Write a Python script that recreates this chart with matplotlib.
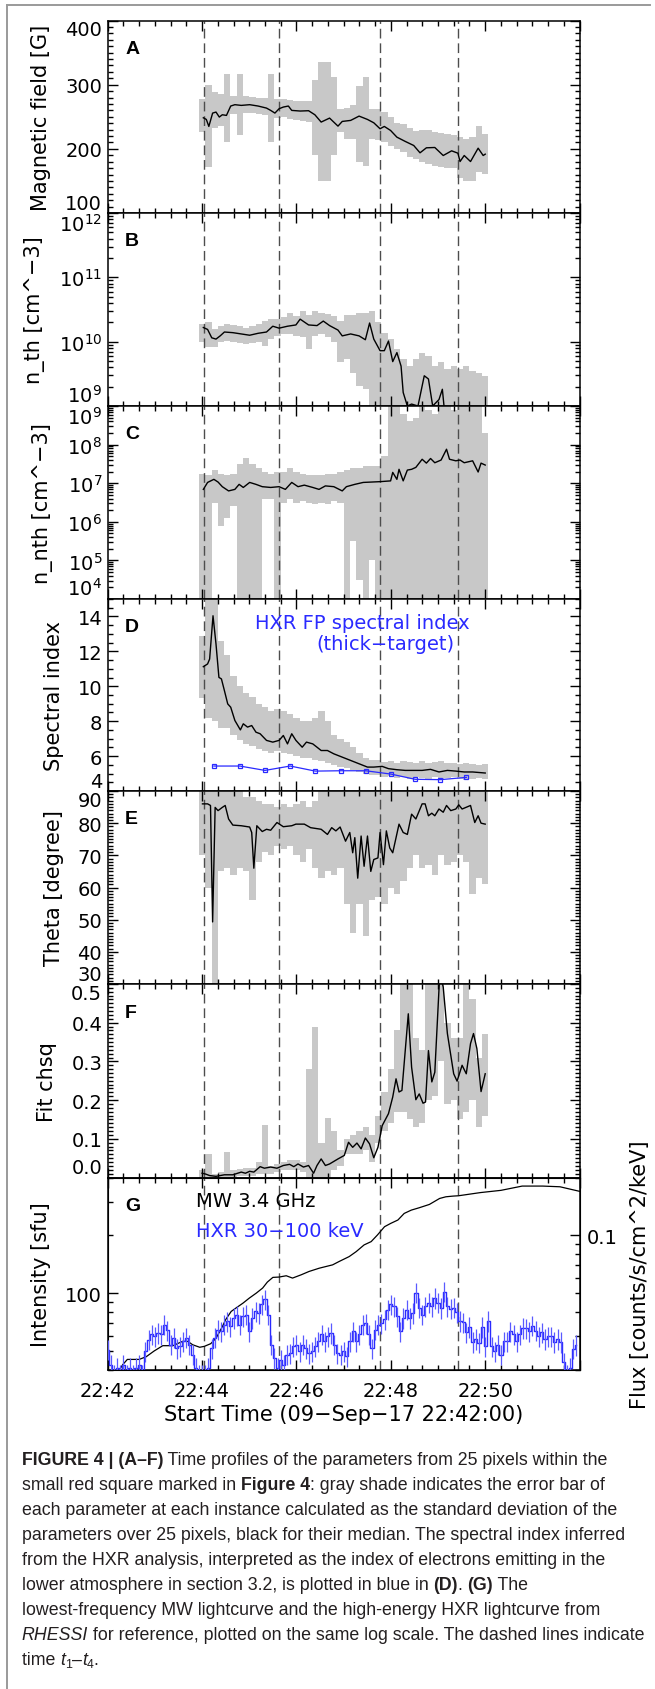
import numpy as np
import matplotlib
matplotlib.use('Agg')
import matplotlib.pyplot as plt
from matplotlib.lines import Line2D
from matplotlib.ticker import (MultipleLocator, FixedLocator, LogLocator,
                               NullFormatter, FuncFormatter, FormatStrFormatter)

plt.rcParams['font.family'] = ['DejaVu Sans']

# ---------------- data (time in s after 22:42:00) ----------------
t_marks = [122, 218, 346, 446]
tick_t = [0, 120, 240, 360, 480, 600]
tick_lab = ['22:42', '22:44', '22:46', '22:48', '22:50', '']

# gray error shading is sampled on one 8 s grid
t_grid = np.arange(120, 481, 8)

# (A) magnetic field [G]
bfield_t = [121.6, 125.4, 128.6, 133.4, 137.7, 141.9, 145.7, 151.0, 156.4, 161.7, 169.8, 180.5,
            191.2, 201.9, 207.2, 212.6, 217.9, 223.3, 229.7, 234.0, 244.7, 255.4, 263.4, 271.4,
            282.1, 292.8, 298.2, 308.9, 319.6, 330.3, 338.3, 346.3, 351.7, 359.7, 367.7, 378.4,
            389.1, 397.1, 405.2, 415.9, 426.6, 437.3, 445.3, 448.0, 453.3, 461.3, 471.0, 477.4, 480.0]
bfield_med = [248.4, 245.8, 234.9, 255.7, 257.3, 249.5, 253.1, 252.1, 266.7, 268.8, 267.7, 268.8,
              266.7, 263.5, 259.9, 255.7, 262.5, 265.1, 266.7, 259.9, 258.9, 259.4, 253.1, 241.7,
              247.9, 235.4, 242.7, 244.3, 251.0, 245.8, 240.6, 231.3, 234.9, 228.6, 218.2, 211.5,
              205.2, 193.8, 201.6, 202.1, 189.6, 196.9, 193.2, 180.2, 189.6, 180.2, 201.0, 189.6, 191.7]
bfield_lo = [226, 171, 232, 235, 210, 255, 221, 256, 256, 254, 252, 210, 248, 250, 246, 245,
             244, 242, 190, 150, 150, 190, 226, 216, 216, 179, 174, 216, 214, 210, 205, 200,
             195, 188, 184, 179, 176, 174, 172, 170, 170, 155, 150, 150, 164, 161]
bfield_hi = [278, 299, 288, 286, 317, 283, 317, 282, 281, 280, 279, 317, 277, 278, 276, 275,
             274, 275, 307, 335, 335, 312, 262, 263, 268, 298, 312, 262, 262, 257, 250, 240,
             238, 232, 228, 230, 229, 226, 225, 223, 222, 218, 216, 218, 236, 223]

# (B) thermal density, log10 [cm^-3]
nth_t = [121.6, 127.0, 132.3, 137.7, 143.0, 148.4, 159.1, 169.8, 180.5, 191.2, 201.9, 209.9,
         217.9, 228.6, 239.3, 244.7, 255.4, 266.1, 274.1, 282.1, 292.8, 298.2, 308.9, 319.6,
         327.6, 333.0, 338.3, 346.3, 351.7, 357.0, 362.4, 367.7, 373.0, 375.7, 381.0, 386.4,
         394.5, 402.5, 407.8, 413.2, 421.2, 425.5, 429.2, 480.0]
nth_med = [10.22, 10.19, 10.06, 10.04, 10.09, 10.15, 10.14, 10.12, 10.10, 10.13, 10.15, 10.24,
           10.21, 10.24, 10.26, 10.35, 10.26, 10.25, 10.32, 10.25, 10.18, 10.09, 10.12, 10.09,
           10.03, 10.29, 10.04, 9.86, 9.86, 10.01, 9.69, 9.83, 9.62, 9.21, 9.00, 9.03,
           9.00, 9.47, 9.42, 9.00, 9.10, 9.26, 8.80, 8.70]
nth_lo = [9.99, 9.91, 9.91, 9.99, 10.01, 10.0, 9.98, 9.96, 9.98, 9.99, 9.94, 10.04, 10.09, 10.12,
          10.12, 10.09, 10.07, 9.88, 10.09, 10.12, 10.07, 9.99, 9.68, 9.73, 9.52, 9.31, 9.26, 9.0,
          8.7, 8.7, 8.7, 8.7, 8.7, 8.7, 8.7, 8.7, 8.7, 8.7, 8.7, 8.7, 8.7, 8.7, 8.7, 8.7, 8.7, 8.7]
nth_hi = [10.27, 10.3, 10.19, 10.25, 10.27, 10.26, 10.25, 10.22, 10.24, 10.27, 10.32, 10.35,
          10.35, 10.38, 10.45, 10.4, 10.48, 10.42, 10.48, 10.45, 10.43, 10.4, 10.32, 10.42,
          10.42, 10.44, 10.45, 10.48, 10.3, 10.14, 10.04, 9.88, 9.73, 9.62, 9.73, 9.83,
          9.78, 9.62, 9.68, 9.57, 9.62, 9.57, 9.62, 9.55, 9.52, 9.47]

# (C) nonthermal density, log10 [cm^-3]
nnth_t = [121.6, 127.0, 135.0, 140.3, 145.7, 153.7, 161.7, 167.1, 172.4, 180.5, 188.5, 196.5,
          207.2, 217.9, 225.9, 234.0, 242.0, 250.0, 260.7, 268.7, 276.8, 287.5, 298.2, 303.5,
          314.2, 324.9, 335.6, 346.3, 359.7, 362.4, 367.7, 370.4, 375.7, 381.0, 386.4, 391.8,
          399.8, 405.2, 410.5, 415.9, 423.9, 430.8, 434.6, 442.6, 448.0, 453.3, 464.0, 471.0,
          474.7, 480.0]
nnth_med = [6.84, 7.02, 7.10, 7.03, 6.91, 6.80, 6.84, 6.97, 6.89, 7.02, 6.97, 6.91,
            6.89, 6.91, 6.84, 7.02, 6.91, 6.95, 6.89, 6.84, 6.93, 6.91, 6.80, 6.91,
            6.97, 7.02, 7.03, 7.04, 7.06, 7.28, 7.10, 7.36, 7.06, 7.34, 7.36, 7.41,
            7.62, 7.52, 7.64, 7.53, 7.60, 7.88, 7.62, 7.58, 7.60, 7.53, 7.58, 7.29,
            7.52, 7.47]
nnth_lo = [3.5, 3.5, 6.5, 5.9, 6.1, 6.4, 3.5, 3.5, 3.5, 3.5, 6.6, 6.6, 3.5, 6.5, 6.6, 6.5,
           6.55, 6.5, 6.45, 6.5, 6.45, 6.55, 6.5, 3.5, 5.5, 4.5, 3.5, 5.0, 3.5, 3.5, 3.5, 3.5,
           3.5, 3.5, 3.5, 3.5, 3.5, 3.5, 3.5, 3.5, 3.5, 3.5, 3.5, 3.5, 3.5, 3.5]
nnth_hi = [7.25, 7.2, 7.35, 7.25, 7.2, 7.25, 7.5, 7.65, 7.5, 7.4, 7.3, 7.25, 7.3, 7.3, 7.4, 7.3,
           7.25, 7.2, 7.2, 7.2, 7.25, 7.25, 7.3, 7.35, 7.4, 7.4, 7.45, 7.45, 7.45, 7.7, 9.2, 9.2,
           8.8, 8.6, 8.7, 9.2, 8.9, 8.8, 9.2, 9.2, 8.9, 9.2, 9.2, 9.2, 9.2, 8.3]

# (D) spectral index
delta_t = [121.6, 127.0, 129.6, 133.9, 137.7, 141.4, 144.6, 148.4, 152.6, 156.4, 161.7, 168.7,
           172.4, 177.8, 183.1, 188.5, 193.8, 201.9, 209.9, 217.9, 223.3, 228.6, 234.0, 239.3,
           247.3, 252.7, 260.7, 266.1, 271.4, 279.4, 287.5, 298.2, 308.9, 319.6, 330.3, 338.3,
           349.0, 357.0, 367.7, 378.4, 389.1, 399.8, 410.5, 421.2, 431.9, 442.6, 453.3, 464.0, 480.0]
delta_med = [11.12, 11.28, 11.56, 14.04, 12.42, 10.51, 10.42, 9.75, 8.99, 8.80, 8.04, 7.50,
             7.85, 7.66, 7.75, 7.37, 7.28, 6.90, 6.80, 6.90, 7.18, 6.70, 7.28, 6.90,
             6.51, 6.80, 6.70, 6.51, 6.32, 6.32, 6.13, 5.94, 5.75, 5.56, 5.37, 5.37,
             5.41, 5.28, 5.22, 5.18, 5.18, 5.18, 5.24, 5.09, 5.18, 5.14, 5.09, 5.09, 5.03]
delta_lo = [9.3, 8.2, 8.0, 7.6, 7.6, 7.2, 6.9, 6.7, 6.6, 6.4, 6.3, 6.2, 6.3, 6.2, 6.1, 6.0,
            5.9, 5.9, 5.8, 5.7, 5.6, 5.5, 5.4, 5.3, 5.2, 5.1, 5.0, 4.9, 4.9, 4.8, 4.85, 4.75,
            4.8, 4.7, 4.8, 4.75, 4.7, 4.8, 4.7, 4.75, 4.8, 4.7, 4.65, 4.7, 4.75, 4.7]
delta_hi = [12.9, 15.5, 15.5, 12.6, 11.8, 10.6, 10.0, 9.6, 9.4, 9.0, 8.8, 8.6, 8.7, 8.6, 8.4, 8.2,
            8.0, 8.0, 8.2, 8.6, 8.0, 7.2, 7.0, 6.8, 6.5, 6.2, 5.9, 5.8, 5.8, 5.65, 5.7, 5.6,
            5.7, 5.65, 5.6, 5.7, 5.6, 5.65, 5.7, 5.6, 5.6, 5.55, 5.6, 5.55, 5.5, 5.55]
hxr_idx_t = [135, 168, 200, 232, 264, 296, 328, 360, 391, 423, 456]
hxr_idx = [5.43, 5.43, 5.18, 5.43, 5.14, 5.16, 5.16, 4.97, 4.67, 4.65, 4.78]

# (E) viewing angle [deg]
theta_t = [120.5, 127.0, 130.7, 133.4, 136.6, 140.3, 145.7, 149.4, 153.7, 159.1, 169.8, 180.5,
           183.1, 185.8, 189.6, 196.5, 201.9, 207.2, 215.2, 223.3, 234.0, 239.3, 250.0, 258.0,
           271.4, 279.4, 284.8, 290.1, 295.5, 302.4, 307.8, 311.5, 314.2, 317.9, 322.2, 326.0,
           330.3, 334.5, 338.3, 343.6, 346.3, 350.6, 354.3, 358.6, 362.4, 370.4, 375.7, 381.0,
           386.4, 391.8, 399.8, 403.6, 407.8, 412.1, 415.9, 421.2, 426.6, 430.8, 436.2, 442.6,
           446.4, 450.6, 461.3, 466.7, 471.0, 474.7, 480.0]
theta_med = [86.0, 86.0, 85.5, 49.3, 84.9, 83.9, 84.9, 85.5, 81.3, 79.4, 79.2, 78.8,
             77.1, 66.0, 79.2, 77.4, 78.1, 77.8, 80.2, 78.9, 79.2, 79.7, 79.7, 78.6,
             78.1, 76.5, 78.6, 77.6, 78.8, 74.4, 77.1, 70.8, 75.5, 62.9, 76.0, 66.6,
             76.0, 65.0, 68.7, 69.2, 77.1, 67.1, 77.6, 72.3, 70.8, 79.7, 77.1, 76.5,
             82.8, 81.3, 86.0, 86.0, 82.3, 83.1, 82.3, 84.4, 83.4, 85.5, 83.9, 84.4,
             85.7, 84.4, 85.5, 80.2, 82.3, 80.0, 79.7]
theta_lo = [70, 60, 28, 65, 66, 64, 66, 65, 56, 68, 71, 70, 73, 72, 73, 70, 68, 72, 66, 63,
            65, 64, 66, 55, 46, 55, 45, 56, 57, 55, 60, 58, 62, 66, 70, 66, 67, 64, 70, 67,
            68, 70, 68, 58, 63, 61]
theta_hi = [92, 92, 92, 92, 92, 92, 90, 88, 88, 87, 86, 86, 85, 86, 85, 86, 87, 85, 87, 90,
            92, 92, 90, 92, 92, 92, 92, 92, 92, 92, 92, 92, 90, 92, 92, 92, 92, 92, 92, 92,
            92, 92, 90, 92, 92, 92]

# (F) fit chi-square
chsq_t = [120.0, 124.3, 129.6, 137.7, 148.4, 159.1, 169.8, 175.1, 180.5, 185.8, 193.8, 199.2,
          207.2, 215.2, 223.3, 231.3, 236.6, 242.0, 248.9, 255.4, 261.8, 266.1, 271.4, 276.8,
          282.1, 292.8, 300.8, 306.2, 311.5, 316.9, 322.2, 327.6, 332.9, 338.3, 343.6, 349.0,
          357.0, 362.4, 366.6, 370.4, 374.1, 382.2, 386.4, 391.8, 396.1, 400.9, 404.1, 407.8,
          412.1, 415.9, 422.3, 426.6, 431.9, 439.9, 444.2, 450.6, 455.9, 461.3, 465.1, 469.4,
          474.7, 480.0]
chsq_med = [0.011, 0.009, 0.005, 0.003, 0.007, 0.007, 0.014, 0.011, 0.016, 0.014, 0.028, 0.024,
            0.027, 0.024, 0.031, 0.034, 0.028, 0.035, 0.027, 0.031, 0.011, 0.031, 0.048, 0.031,
            0.035, 0.048, 0.057, 0.091, 0.078, 0.089, 0.074, 0.102, 0.087, 0.051, 0.078, 0.134,
            0.165, 0.208, 0.255, 0.221, 0.225, 0.423, 0.285, 0.201, 0.216, 0.192, 0.195, 0.328,
            0.247, 0.272, 0.530, 0.492, 0.372, 0.268, 0.249, 0.290, 0.268, 0.346, 0.372, 0.333,
            0.222, 0.268]
chsq_lo = [0.0, -0.005, -0.005, -0.005, -0.002, 0.0, 0.005, 0.005, 0.005, 0.01, 0.01, 0.01,
           0.015, 0.02, 0.02, 0.02, 0.015, 0.0, -0.02, 0.0, -0.02, 0.02, 0.03, 0.06, 0.06, 0.06,
           0.07, 0.04, 0.09, 0.12, 0.14, 0.17, 0.17, 0.15, 0.13, 0.14, 0.2, 0.21, 0.3, 0.19,
           0.2, 0.15, 0.17, 0.2, 0.13, 0.16]
chsq_hi = [0.02, 0.06, 0.01, 0.015, 0.065, 0.02, 0.022, 0.025, 0.025, 0.04, 0.135, 0.03,
           0.035, 0.04, 0.045, 0.045, 0.04, 0.28, 0.39, 0.09, 0.155, 0.12, 0.07, 0.1, 0.11, 0.12,
           0.13, 0.11, 0.16, 0.22, 0.28, 0.38, 0.5, 0.5, 0.36, 0.33, 0.5, 0.5, 0.52, 0.4,
           0.36, 0.36, 0.5, 0.46, 0.31, 0.37]

# (G) MW 3.4 GHz [sfu] and HXR 30-100 keV flux (4 s bins)
mw_t = [0, 10, 15, 19, 25, 40, 49, 59, 70, 83, 95, 102, 108, 117, 123, 131, 138, 146, 150, 157,
        163, 172, 180, 189, 197, 203, 210, 218, 227, 235, 246, 256, 269, 286, 294, 307, 316,
        326, 335, 343, 352, 360, 369, 377, 386, 396, 409, 422, 430, 439, 446, 474, 500, 527,
        553, 575, 600]
mw_sfu = [36, 38, 40, 42.6, 45.4, 45.4, 46.9, 50.2, 53.5, 53.5, 56.3, 56.3, 54.1, 52.5, 53.1,
          54.8, 58.7, 67.5, 73.1, 80.6, 83.9, 89.0, 94.5, 100.4, 106.6, 114.5, 121.1, 121.6,
          123.5, 120.1, 124.9, 130.0, 135.2, 140.7, 146.3, 155.3, 164.9, 178.6, 185.8, 201.2,
          222.1, 231.2, 240.6, 260.3, 270.8, 278.5, 289.8, 311.3, 317.6, 320.2, 321.5, 334,
          343, 361, 361, 358, 339]
hxr_t = np.arange(0, 600, 4)
hxr_flux = [0.0255, 0.0213, 0.019, 0.0205, 0.019, 0.0213, 0.019, 0.0205, 0.019, 0.0205, 0.0213, 0.019,
            0.025, 0.0288, 0.0306, 0.0299, 0.0312, 0.0306, 0.0344, 0.0321, 0.0271, 0.0294, 0.026, 0.0266,
            0.0282, 0.0294, 0.0271, 0.024, 0.0205, 0.019, 0.019, 0.019, 0.0205, 0.026, 0.0294, 0.0324,
            0.0318, 0.0344, 0.0358, 0.0338, 0.0373, 0.0385, 0.0344, 0.0381, 0.0388, 0.0318, 0.0373, 0.0404,
            0.0396, 0.0438, 0.0465, 0.0388, 0.0271, 0.0231, 0.0205, 0.0226, 0.0213, 0.024, 0.0245, 0.0266,
            0.0271, 0.025, 0.0271, 0.026, 0.0245, 0.025, 0.0266, 0.0282, 0.0306, 0.0282, 0.0299, 0.0312,
            0.0271, 0.0245, 0.024, 0.025, 0.0236, 0.0282, 0.0318, 0.0282, 0.0306, 0.0344, 0.0351, 0.0306,
            0.026, 0.0324, 0.0344, 0.0351, 0.0366, 0.0412, 0.0438, 0.0429, 0.0381, 0.0318, 0.0373, 0.0412,
            0.0373, 0.0396, 0.0504, 0.0421, 0.0388, 0.0429, 0.0447, 0.0429, 0.0474, 0.0447, 0.042, 0.051,
            0.043, 0.0416, 0.0421, 0.040, 0.036, 0.0354, 0.0314, 0.0335, 0.028, 0.029, 0.0277, 0.0335,
            0.0266, 0.036, 0.0266, 0.025, 0.0271, 0.024, 0.0282, 0.0282, 0.0318, 0.0306, 0.0282, 0.0306,
            0.0331, 0.033, 0.0318, 0.034, 0.032, 0.03, 0.0314, 0.029, 0.030, 0.030, 0.028, 0.029,
            0.028, 0.022, 0.019, 0.0205, 0.0258, 0.027]
hxr_rel_err = 0.12

# ---------------- figure ----------------
W, H = 655, 1690
fig = plt.figure(figsize=(W / 100, H / 100), dpi=100)
edges = [21.5, 214, 407, 600, 792, 985, 1178.5, 1371]
xl, xr = 107.7, 579.6
GRAY = '#c8c8c8'
BLUE = '#2a2aff'

axs = []
for i in range(7):
    top, bot = edges[i], edges[i + 1]
    axs.append(fig.add_axes([xl / W, 1 - bot / H, (xr - xl) / W, (bot - top) / H]))


def style(ax, last=False):
    ax.set_xlim(0, 600)
    ax.xaxis.set_major_locator(FixedLocator(tick_t))
    ax.xaxis.set_minor_locator(MultipleLocator(20))
    ax.tick_params(which='both', direction='in', top=True, right=True, width=1.0,
                   labelsize=14)
    ax.tick_params(which='major', length=7)
    ax.tick_params(which='minor', length=3.5)
    ax.tick_params(axis='y', pad=4)
    ax.tick_params(axis='x', pad=8)
    for sp in ax.spines.values():
        sp.set_linewidth(1.1)
    if last:
        ax.set_xticklabels(tick_lab)
    else:
        ax.tick_params(labelbottom=False)
    for tm in t_marks:
        ax.axvline(tm, color='0.3', lw=1.0, dashes=(7, 3.5), zorder=2)


def shade(ax, lo, hi, log=False):
    lo = np.asarray(lo, float)
    hi = np.asarray(hi, float)
    if log:
        lo, hi = 10 ** lo, 10 ** hi
    ax.bar(t_grid, hi - lo, bottom=lo, width=8, color=GRAY, lw=0, zorder=1)


def letter(ax, s):
    ax.text(0.037, 0.855, s, transform=ax.transAxes, fontsize=14, fontweight='bold',
            family='Liberation Sans', va='center', ha='left', zorder=5)


ylab_kw = dict(fontsize=15, labelpad=10)

# A
ax = axs[0]
style(ax)
shade(ax, bfield_lo, bfield_hi)
ax.plot(bfield_t, bfield_med, color='k', lw=1.0, zorder=3)
ax.set_ylim(100, 400)
ax.yaxis.set_major_locator(MultipleLocator(100))
ax.yaxis.set_minor_locator(MultipleLocator(10))
ax.set_ylabel('Magnetic field [G]', **ylab_kw)
letter(ax, 'A')

# B
ax = axs[1]
style(ax)
ax.set_yscale('log')
shade(ax, nth_lo, nth_hi, log=True)
ax.plot(nth_t, 10 ** np.array(nth_med), color='k', lw=1.0, zorder=3)
ax.set_ylim(1e9, 1e12)
ax.yaxis.set_major_locator(LogLocator(base=10, numticks=10))
ax.yaxis.set_minor_locator(LogLocator(base=10, subs=np.arange(2, 10) * 1.0, numticks=20))
ax.yaxis.set_minor_formatter(NullFormatter())
ax.set_ylabel('n_th [cm^\u22123]', **ylab_kw)
letter(ax, 'B')

# C
ax = axs[2]
style(ax)
ax.set_yscale('log')
shade(ax, nnth_lo, nnth_hi, log=True)
ax.plot(nnth_t, 10 ** np.array(nnth_med), color='k', lw=1.0, zorder=3)
ax.set_ylim(1e4, 1e9)
ax.yaxis.set_major_locator(LogLocator(base=10, numticks=10))
ax.yaxis.set_minor_locator(LogLocator(base=10, subs=np.arange(2, 10) * 1.0, numticks=20))
ax.yaxis.set_minor_formatter(NullFormatter())
ax.set_ylabel('n_nth [cm^\u22123]', **ylab_kw)
letter(ax, 'C')

# D
ax = axs[3]
style(ax)
shade(ax, delta_lo, delta_hi)
ax.plot(delta_t, delta_med, color='k', lw=1.0, zorder=3)
ax.plot(hxr_idx_t, hxr_idx, color=BLUE, lw=0.9, marker='s', ms=3.5, mfc='none',
        mew=0.9, zorder=4)
ax.set_ylim(4, 15)
ax.yaxis.set_major_locator(MultipleLocator(2))
ax.yaxis.set_minor_locator(MultipleLocator(0.5))
ax.set_ylabel('Spectral index', **ylab_kw)
ax.text(0.539, 0.88, 'HXR FP spectral index', transform=ax.transAxes, color=BLUE,
        fontsize=14, ha='center', va='center')
ax.text(0.5875, 0.766, '(thick\u2212target)', transform=ax.transAxes, color=BLUE,
        fontsize=14, ha='center', va='center')
letter(ax, 'D')

# E
ax = axs[4]
style(ax)
shade(ax, theta_lo, theta_hi)
ax.plot(theta_t, theta_med, color='k', lw=1.0, zorder=3)
ax.set_ylim(30, 90)
ax.yaxis.set_major_locator(MultipleLocator(10))
ax.yaxis.set_minor_locator(MultipleLocator(1))
ax.set_ylabel('Theta [degree]', **ylab_kw)
letter(ax, 'E')

# F
ax = axs[5]
style(ax)
shade(ax, chsq_lo, chsq_hi)
ax.plot(chsq_t, chsq_med, color='k', lw=1.0, zorder=3)
ax.set_ylim(0, 0.5)
ax.yaxis.set_major_locator(MultipleLocator(0.1))
ax.yaxis.set_minor_locator(MultipleLocator(0.01))
ax.yaxis.set_major_formatter(FormatStrFormatter('%.1f'))
ax.set_ylabel('Fit chsq', **ylab_kw)
letter(ax, 'F')

# G
ax = axs[6]
style(ax, last=True)
ax.set_yscale('log')
ax.plot(mw_t, mw_sfu, color='k', lw=0.9, zorder=3)
ax.set_ylim(40, 400)
ax.yaxis.set_major_locator(FixedLocator([100]))
ax.yaxis.set_major_formatter(FuncFormatter(lambda v, p: f'{v:g}'))
ax.yaxis.set_minor_locator(LogLocator(base=10, subs=np.arange(2, 10) * 1.0, numticks=20))
ax.yaxis.set_minor_formatter(NullFormatter())
ax.set_ylabel('Intensity [sfu]', **ylab_kw)
ax.set_xlabel('Start Time (09\u2212Sep\u221217 22:42:00)', fontsize=15, labelpad=3)
letter(ax, 'G')
ax.text(0.187, 0.88, 'MW 3.4 GHz', transform=ax.transAxes, color='k', fontsize=14,
        ha='left', va='center')
ax.text(0.187, 0.725, 'HXR 30\u2212100 keV', transform=ax.transAxes, color=BLUE,
        fontsize=14, ha='left', va='center')

ax2 = ax.twinx()
ax2.set_yscale('log')
hxr = np.array(hxr_flux)
ax2.step(hxr_t, hxr, where='mid', color=BLUE, lw=1.0, zorder=3)
ax2.errorbar(hxr_t, hxr, yerr=hxr * hxr_rel_err, fmt='none', ecolor='#5a5aff', elinewidth=0.9,
             zorder=3)
ax2.set_ylim(0.02, 0.2)
ax2.set_xlim(0, 600)
ax2.yaxis.set_major_locator(FixedLocator([0.1]))
ax2.yaxis.set_major_formatter(FuncFormatter(lambda v, p: f'{v:g}'))
ax2.yaxis.set_minor_locator(LogLocator(base=10, subs=np.arange(2, 10) * 1.0, numticks=20))
ax2.yaxis.set_minor_formatter(NullFormatter())
ax2.tick_params(which='both', direction='in', width=1.0, labelsize=14, pad=5)
ax2.tick_params(which='major', length=7)
ax2.tick_params(which='minor', length=3.5)
ax2.set_ylabel('Flux [counts/s/cm^2/keV]', fontsize=15, labelpad=9)
ax.tick_params(axis='y', which='both', right=False)

# IDL-like: labels at the ends of an axis are pushed inside the box
fig.canvas.draw()
for a in axs:
    lo, hi = a.get_ylim()
    for lab in a.get_yticklabels():
        y = lab.get_position()[1]
        if np.isclose(y, hi, rtol=1e-6):
            lab.set_va('top')
        elif np.isclose(y, lo, rtol=1e-6, atol=1e-9):
            lab.set_va('bottom')

# outer frame
fr = dict(transform=fig.transFigure, color='#9a9a9a', lw=1.4)
fig.add_artist(Line2D([7 / W, 7 / W], [0, 1 - 6 / H], **fr))
fig.add_artist(Line2D([7 / W, 650 / W], [1 - 6 / H, 1 - 6 / H], **fr))

# caption
rend = fig.canvas.get_renderer()
CAP = 12.8
styles = {
    'n': dict(family='Liberation Sans', fontsize=CAP),
    'b': dict(family='Liberation Sans', fontsize=CAP, fontweight='bold'),
    'i': dict(family='Liberation Sans', fontsize=CAP, style='italic'),
    'sub': dict(family='Liberation Sans', fontsize=CAP * 0.7),
}


def seg_width(s, kw):
    t1 = fig.text(0, 0, '|' + s + '|', **kw)
    t2 = fig.text(0, 0, '||', **kw)
    w = t1.get_window_extent(rend).width - t2.get_window_extent(rend).width
    t1.remove()
    t2.remove()
    return w


caption = [
    [('FIGURE 4 | (A\u2013F)', 'b'), (' Time profiles of the parameters from 25 pixels within the', 'n')],
    [('small red square marked in ', 'n'), ('Figure 4', 'b'), (': gray shade indicates the error bar of', 'n')],
    [('each parameter at each instance calculated as the standard deviation of the', 'n')],
    [('parameters over 25 pixels, black for their median. The spectral index inferred', 'n')],
    [('from the HXR analysis, interpreted as the index of electrons emitting in the', 'n')],
    [('lower atmosphere in section 3.2, is plotted in blue in ', 'n'), ('(D)', 'b'), ('. ', 'n'),
     ('(G)', 'b'), (' The', 'n')],
    [('lowest-frequency MW lightcurve and the high-energy HXR lightcurve from', 'n')],
    [('RHESSI', 'i'), (' for reference, plotted on the same log scale. The dashed lines indicate', 'n')],
    [('time ', 'n'), ('t', 'i'), ('1', 'sub'), ('\u2013', 'n'), ('t', 'i'), ('4', 'sub'), ('.', 'n')],
]
y0, dy = 1465, 25.0
for k, parts in enumerate(caption):
    x = 21.7
    yb = y0 + k * dy
    for s, st in parts:
        kw = styles[st]
        yy = yb + (3 if st == 'sub' else 0)
        fig.text(x / W, 1 - yy / H, s, va='baseline', ha='left', color='#231f20', **kw)
        x += seg_width(s, kw)

fig.savefig('out.png', dpi=100)
